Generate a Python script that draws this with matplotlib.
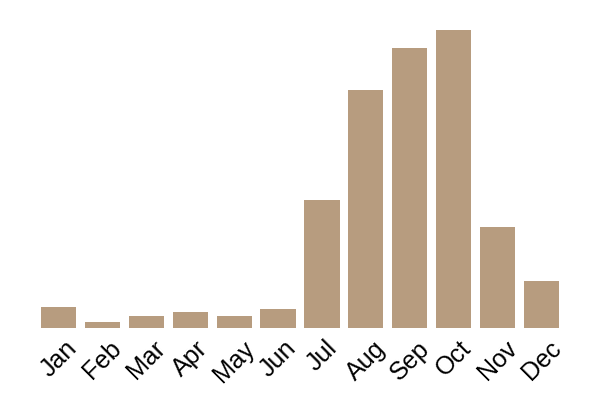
import numpy as np
import matplotlib.pyplot as plt

months = ['Jan', 'Feb', 'Mar', 'Apr', 'May', 'Jun',
          'Jul', 'Aug', 'Sep', 'Oct', 'Nov', 'Dec']
values = [21, 6, 12, 16, 12, 19, 128, 238, 280, 298, 101, 47]

fig = plt.figure(figsize=(6, 4), dpi=100)
ax = fig.add_axes([36.5/600, 72/400, 527/600, 298/400])

x = np.arange(len(months))
ax.bar(x, values, width=0.8, color='#b79c7f')
ax.set_xlim(-0.5, len(months) - 0.5)
ax.set_ylim(0, max(values))
ax.set_xticks(x)
ax.set_xticklabels(months, rotation=45, ha='center', fontsize=18,
                   family='Liberation Sans')
ax.tick_params(axis='x', length=0, pad=6)
ax.set_yticks([])
for s in ax.spines.values():
    s.set_visible(False)

fig.savefig('out.png', dpi=100)
